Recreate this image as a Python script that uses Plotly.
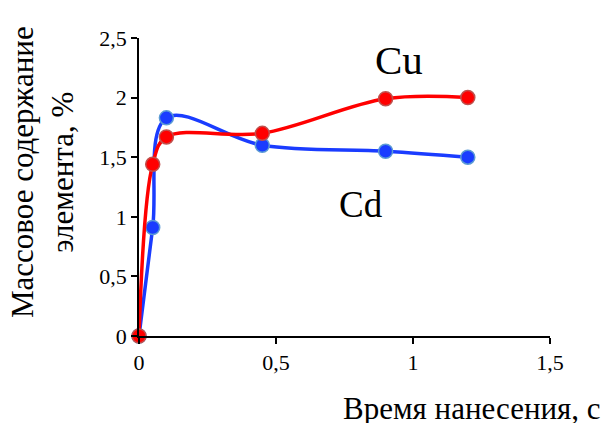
import plotly.graph_objects as go

time_s = [0, 0.05, 0.1, 0.45, 0.9, 1.2]
cu_values = [0, 1.44, 1.67, 1.70, 1.99, 2.00]
cd_values = [0, 0.91, 1.83, 1.60, 1.55, 1.50]

x_ticks = [0, 0.5, 1, 1.5]
x_tick_labels = ["0", "0,5", "1", "1,5"]
y_ticks = [0, 0.5, 1, 1.5, 2, 2.5]
y_tick_labels = ["0", "0,5", "1", "1,5", "2", "2,5"]

font_family = "Liberation Serif, Times New Roman, DejaVu Serif, serif"

W, H = 608, 423
L, R, T, B = 139, 58, 38, 87
pw, ph = W - L - R, H - T - B


def px(xp):
    return (xp - L) / pw


def py(yp):
    return (H - B - yp) / ph


fig = go.Figure()
fig.add_trace(go.Scatter(
    x=time_s, y=cd_values, mode="lines+markers",
    line=dict(color="#1a3cff", width=3.5, shape="spline", smoothing=1),
    marker=dict(size=14, color="#1a3cff", line=dict(color="#5b9bd5", width=1.5)),
    cliponaxis=False, name="Cd", showlegend=False, hoverinfo="skip",
))
fig.add_trace(go.Scatter(
    x=time_s, y=cu_values, mode="lines+markers",
    line=dict(color="#ff0000", width=3.5, shape="spline", smoothing=1),
    marker=dict(size=14, color="#ff0000", line=dict(color="#c0504d", width=1.5)),
    cliponaxis=False, name="Cu", showlegend=False, hoverinfo="skip",
))

fig.add_annotation(x=px(399), y=py(60), xref="paper", yref="paper", text="Cu",
                   showarrow=False, xanchor="center", yanchor="middle",
                   font=dict(family=font_family, size=41, color="black"))
fig.add_annotation(x=px(361), y=py(204), xref="paper", yref="paper", text="Cd",
                   showarrow=False, xanchor="center", yanchor="middle",
                   font=dict(family=font_family, size=37, color="black"))

fig.add_annotation(x=px(42), y=py(172), xref="paper", yref="paper",
                   text="Массовое содержание<br>элемента, %", textangle=-90,
                   showarrow=False, xanchor="center", yanchor="middle",
                   font=dict(family=font_family, size=31, color="black"))
fig.add_annotation(x=px(603), y=py(408), xref="paper", yref="paper",
                   text="Время нанесения, с", showarrow=False,
                   xanchor="right", yanchor="middle",
                   font=dict(family=font_family, size=31, color="black"))

fig.update_layout(
    width=W, height=H,
    margin=dict(l=L, r=R, t=T, b=B),
    paper_bgcolor="white", plot_bgcolor="white",
    font=dict(family=font_family, size=22, color="black"),
    xaxis=dict(range=[0, 1.5], tickvals=x_ticks, ticktext=x_tick_labels,
               showgrid=False, zeroline=False, showline=True, linecolor="black",
               linewidth=1.5, ticks="outside", ticklen=6, tickcolor="black",
               tickwidth=1.5, tickfont=dict(family=font_family, size=22)),
    yaxis=dict(range=[0, 2.5], tickvals=y_ticks, ticktext=y_tick_labels,
               showgrid=False, zeroline=False, showline=True, linecolor="black",
               linewidth=1.5, ticks="outside", ticklen=6, tickcolor="black",
               tickwidth=1.5, tickfont=dict(family=font_family, size=22)),
)

fig.write_html("out.html", config={"displayModeBar": False},
               post_script="document.body.style.margin='0';document.body.style.overflow='hidden';")
